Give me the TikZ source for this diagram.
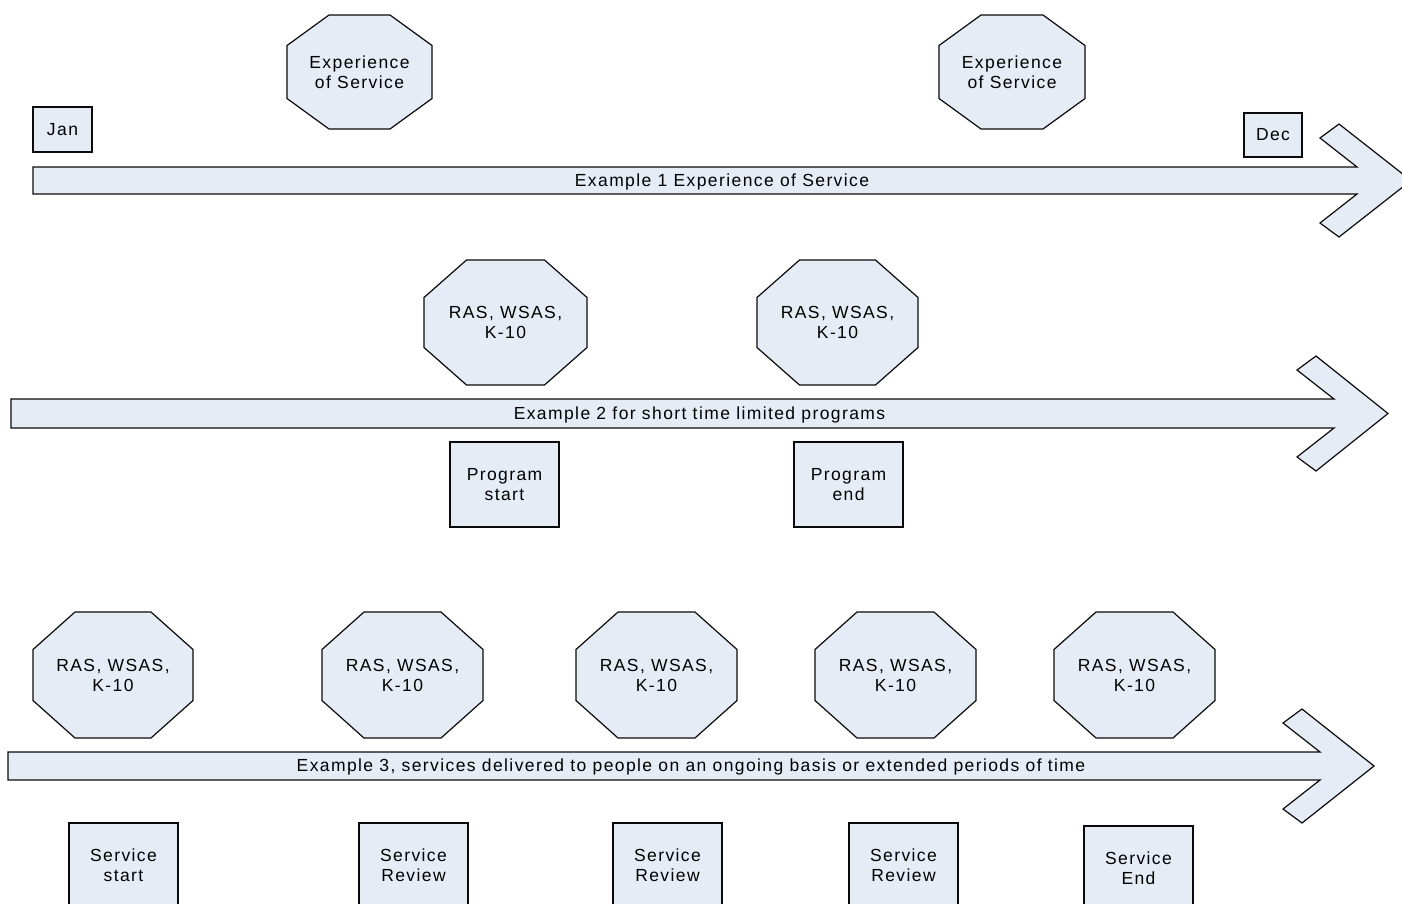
\documentclass[tikz,border=0pt]{standalone}
\usepackage{fontspec}
\newfontfamily\lblfont{Liberation Sans}[LetterSpace=8]
\definecolor{fillblue}{RGB}{230,236,246}
\definecolor{edge}{RGB}{10,10,10}
\tikzset{
  shapefill/.style={fill=fillblue, draw=edge, line width=1.2pt, line join=miter},
  lbl/.style={font=\lblfont\fontsize{17.5}{20}\selectfont, align=center, inner sep=0pt},
  boxnode/.style={shapefill, lbl, inner sep=0pt},
}
% octagon: name, cx, cy, half-width, half-height, inset x, inset y, text
\newcommand\myocta[8]{%
  \path[shapefill] (#2-#4+#6,#3-#5) -- (#2+#4-#6,#3-#5) -- (#2+#4,#3-#5+#7) -- (#2+#4,#3+#5-#7)
     -- (#2+#4-#6,#3+#5) -- (#2-#4+#6,#3+#5) -- (#2-#4,#3+#5-#7) -- (#2-#4,#3-#5+#7) -- cycle;
  \node[lbl] (#1) at (#2,#3) {#8};}
% arrow: name, x0, X (shaft end), T, B, text
\newcommand\myarrow[6]{%
  \path[shapefill] (#2,#4) -- (#3,#4) -- (#3-37,#4-29) -- (#3-18,#4-43) -- (#3+54,{(#4+#5)/2})
     -- (#3-18,#5+43) -- (#3-37,#5+29) -- (#3,#5) -- (#2,#5) -- cycle;
  \node[lbl] (#1) at ({(#2+#3+54)/2},{(#4+#5)/2+1}) {#6};}
\begin{document}
\begin{tikzpicture}[x=1pt,y=-1pt]
\useasboundingbox (0,0) rectangle (1402,903);
\clip (0,0) rectangle (1402,903);
% Example 1
\myarrow{ex1}{33}{1357}{167}{194}{Example 1 Experience of Service}
\myocta{eos1}{359.5}{72}{72.5}{57}{42}{30.5}{Experience\\of Service}
\myocta{eos2}{1012}{72}{73}{57}{42}{30.5}{Experience\\of Service}
\node[boxnode, minimum width=59pt, minimum height=45pt] (jan) at (62.5,129.5) {Jan};
\node[boxnode, minimum width=58pt, minimum height=44pt] (dec) at (1273,135) {Dec};
% Example 2
\myarrow{ex2}{11}{1334}{399}{428}{Example 2 for short time limited programs}
\myocta{ras21}{505.5}{322.5}{81.5}{62.5}{42.5}{37.5}{RAS, WSAS,\\K-10}
\myocta{ras22}{837.5}{322.5}{80.5}{62.5}{42.5}{37.5}{RAS, WSAS,\\K-10}
\node[boxnode, minimum width=109pt, minimum height=85pt] (pstart) at (504.5,484.5) {Program\\start};
\node[boxnode, minimum width=109pt, minimum height=85pt] (pend) at (848.5,484.5) {Program\\end};
% Example 3
\myarrow{ex3}{8}{1320}{752}{780}{Example 3, services delivered to people on an ongoing basis or extended periods of time}
\myocta{ras31}{113}{675}{80}{63}{42}{37.5}{RAS, WSAS,\\K-10}
\myocta{ras32}{402.5}{675}{80.5}{63}{42}{37.5}{RAS, WSAS,\\K-10}
\myocta{ras33}{656.5}{675}{80.5}{63}{42}{37.5}{RAS, WSAS,\\K-10}
\myocta{ras34}{895.5}{675}{80.5}{63}{42}{37.5}{RAS, WSAS,\\K-10}
\myocta{ras35}{1134.5}{675}{80.5}{63}{42}{37.5}{RAS, WSAS,\\K-10}
\node[boxnode, minimum width=109pt, minimum height=85pt] (sstart) at (123.5,865.5) {Service\\start};
\node[boxnode, minimum width=109pt, minimum height=85pt] (srev1) at (413.5,865.5) {Service\\Review};
\node[boxnode, minimum width=109pt, minimum height=85pt] (srev2) at (667.5,865.5) {Service\\Review};
\node[boxnode, minimum width=109pt, minimum height=85pt] (srev3) at (903.5,865.5) {Service\\Review};
\node[boxnode, minimum width=109pt, minimum height=85pt] (send) at (1138.5,868.5) {Service\\End};
\end{tikzpicture}
\end{document}
